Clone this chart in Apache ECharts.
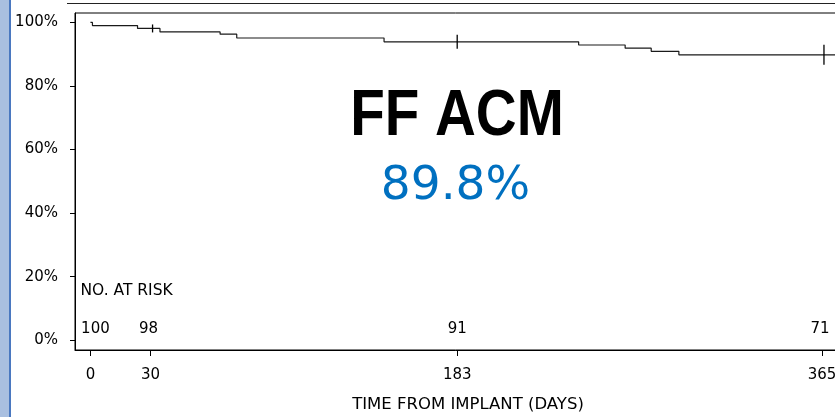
<!DOCTYPE html>
<html>
<head>
<meta charset="utf-8">
<script src="https://cdn.jsdelivr.net/npm/echarts@6/dist/echarts.min.js"></script>
<style>
html,body{margin:0;padding:0;background:#fff;}
#chart{width:835px;height:417px;}
</style>
</head>
<body>
<div id="chart"></div>
<script>
// ---- data ----
const survDays = [0, 1, 23.5, 34.7, 64.7, 73, 146.5, 243.6, 266.8, 279.8, 293.6, 372];
const survPct  = [100, 99, 98.1, 97, 96.3, 95.1, 93.9, 92.9, 91.9, 90.9, 89.8, 89.8];
const censorDays = [31, 183, 366];
const censorPct  = [98.1, 93.9, 89.8];
const xTicks = [0, 30, 183, 365];
const yTicks = [0, 20, 40, 60, 80, 100];
const riskDays = [0, 30, 183, 365];
const riskCounts = [100, 98, 91, 71];
const riskTitle = 'NO. AT RISK';
const xTitle = 'TIME FROM IMPLANT (DAYS)';
const bigTitle = 'FF ACM';
const bigValue = '89.8%';

const chart = echarts.init(document.getElementById('chart'), null, {renderer: 'canvas'});
const FONT = 'DejaVu Sans';
const censorLen = [8, 14, 20];
const riskOffsets = [[5, 0], [-2, 0], [0, 0], [-2, 0]];

const option = {
  animation: false,
  backgroundColor: '#fff',
  grid: {
    left: 75, top: 13, width: 765, height: 337,
    outerBoundsMode: 'none', containLabel: false,
    show: true, borderColor: '#000', borderWidth: 1, backgroundColor: 'transparent'
  },
  xAxis: {
    type: 'value', min: -7.7, max: 374,
    axisLine: {show: true, onZero: false, lineStyle: {color: '#000', width: 1}},
    axisTick: {show: true, inside: false, length: 6, customValues: xTicks, lineStyle: {color: '#000'}},
    axisLabel: {show: true, customValues: xTicks, margin: 18, color: '#000', fontFamily: FONT, fontSize: 15},
    splitLine: {show: false}
  },
  yAxis: {
    type: 'value', min: -3.05, max: 102.96,
    axisLine: {show: true, onZero: false, lineStyle: {color: '#000', width: 1}},
    axisTick: {show: true, inside: false, length: 5, customValues: yTicks, lineStyle: {color: '#000'}},
    axisLabel: {show: true, customValues: yTicks, margin: 17, color: '#000', fontFamily: FONT, fontSize: 15,
      formatter: v => v + '%'},
    splitLine: {show: false}
  },
  series: [
    {
      type: 'line', step: 'end', symbol: 'none',
      data: survDays.map((d, i) => [d, survPct[i]]),
      lineStyle: {color: '#1a1a1a', width: 1.2},
      z: 3
    },
    {
      type: 'scatter',
      data: censorDays.map((d, i) => [d, censorPct[i]]),
      symbol: 'rect',
      symbolSize: (v, p) => [1.3, censorLen[p.dataIndex]],
      itemStyle: {color: '#000', opacity: 1},
      z: 4
    },
    {
      type: 'scatter',
      data: riskDays.map((d, i) => ({value: [d, 3.4, riskCounts[i]], label: {offset: riskOffsets[i]}})),
      symbolSize: 0,
      itemStyle: {opacity: 1},
      label: {show: true, position: 'inside', formatter: p => String(p.value[2]),
        color: '#000', opacity: 1, fontFamily: FONT, fontSize: 15},
      z: 5
    }
  ],
  graphic: [
    {type: 'rect', shape: {x: 0, y: 0, width: 9, height: 417}, style: {fill: '#a9bfe0'}, silent: true},
    {type: 'rect', shape: {x: 9, y: 0, width: 2, height: 417}, style: {fill: '#4a78c0'}, silent: true},
    {type: 'line', shape: {x1: 67, y1: 3.5, x2: 835, y2: 3.5}, style: {stroke: '#222', lineWidth: 1.2}, silent: true},
    {type: 'text', x: 457, y: 117, scaleX: 0.87,
      style: {text: bigTitle, x: 0, y: 0, textAlign: 'center', textVerticalAlign: 'middle',
        font: 'bold 65px "Liberation Sans"', fill: '#000'}},
    {type: 'text', x: 455.5, y: 187,
      style: {text: bigValue, x: 0, y: 0, textAlign: 'center', textVerticalAlign: 'middle',
        font: '47px "DejaVu Sans"', fill: '#0070C0'}},
    {type: 'text', x: 80.5, y: 291,
      style: {text: riskTitle, textAlign: 'left', textVerticalAlign: 'middle',
        font: '15.5px "DejaVu Sans"', fill: '#000'}},
    {type: 'text', x: 468, y: 405,
      style: {text: xTitle, textAlign: 'center', textVerticalAlign: 'middle',
        font: '16.5px "DejaVu Sans"', fill: '#000'}}
  ]
};
chart.setOption(option);
</script>
</body>
</html>
